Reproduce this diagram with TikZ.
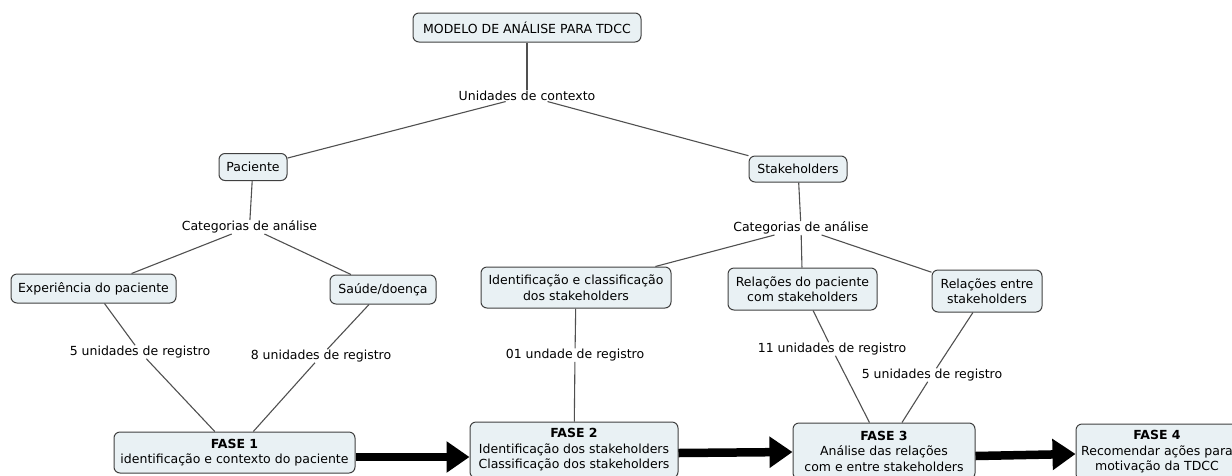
\documentclass[tikz,border=0pt]{standalone}
\usepackage{fontspec}
\setmainfont{DejaVu Sans}
\usetikzlibrary{shapes,arrows.meta}

\definecolor{boxfill}{HTML}{E9F1F4}
\definecolor{boxline}{HTML}{404040}
\definecolor{linkgray}{HTML}{505050}

\tikzset{
  concept/.style={draw=boxline, fill=boxfill, rounded corners=6pt, line width=1pt, align=center, inner sep=0pt},
  phrase/.style={inner sep=0.5pt, align=center},
  link/.style={draw=linkgray, line width=1.1pt},
  bigarrow/.style={line width=8.5pt, -{Triangle[length=23pt,width=30pt]}}
}

\begin{document}
\begin{tikzpicture}[x=1pt, y=-1pt, font=\fontsize{12.5}{15.5}\selectfont]
    \useasboundingbox (0,0) rectangle (1232,475);
    \clip (0,0) rectangle (1232,475);
    % concepts
    \node[concept, minimum width=228pt, minimum height=29pt] (modelo) at (527, 27.5) {MODELO DE ANÁLISE PARA TDCC};
    \node[concept, minimum width=68pt, minimum height=27pt] (paciente) at (253, 167) {Paciente};
    \node[concept, minimum width=98pt, minimum height=26pt] (stake) at (798, 169) {Stakeholders};
    \node[concept, minimum width=165pt, minimum height=29pt] (experiencia) at (93.5, 288.5) {Experiência do paciente};
    \node[concept, minimum width=106pt, minimum height=29pt] (saude) at (383, 289.5) {Saúde/doença};
    \node[concept, minimum width=190pt, minimum height=41pt] (identif) at (576, 287.5) {Identificação e classificação\\dos stakeholders};
    \node[concept, minimum width=149pt, minimum height=42pt] (relpac) at (802.5, 289) {Relações do paciente\\com stakeholders};
    \node[concept, minimum width=110pt, minimum height=42pt] (relentre) at (987, 291) {Relações entre\\stakeholders};
    \node[concept, minimum width=241pt, minimum height=41pt] (fase1) at (234.5, 452.5) {\textbf{FASE 1}\\identificação e contexto do paciente};
    \node[concept, minimum width=208pt, minimum height=56pt] (fase2) at (574, 450) {\textbf{FASE 2}\\Identificação dos stakeholders\\Classificação dos stakeholders};
    \node[concept, minimum width=182pt, minimum height=56pt] (fase3) at (884, 451) {\textbf{FASE 3}\\Análise das relações\\com e entre stakeholders};
    \node[concept, minimum width=162pt, minimum height=56pt] (fase4) at (1157, 452) {\textbf{FASE 4}\\Recomendar ações para\\motivação da TDCC};
    % linking phrases
    \node[phrase] (contexto) at (527, 96) {Unidades de contexto};
    \node[phrase] (catpac) at (249.5, 227) {Categorias de análise};
    \node[phrase] (catstake) at (801, 228) {Categorias de análise};
    \node[phrase] (regA) at (140, 352) {5 unidades de registro};
    \node[phrase] (regB) at (321, 356) {8 unidades de registro};
    \node[phrase] (regC) at (575, 355) {01 undade de registro};
    \node[phrase] (regD) at (832, 349) {11 unidades de registro};
    \node[phrase] (regE) at (932, 375) {5 unidades de registro};
    % links
    \draw[link] (modelo) -- (contexto);
    \draw[link] (contexto) -- (paciente);
    \draw[link] (contexto) -- (stake);
    \draw[link] (paciente) -- (catpac);
    \draw[link] (stake) -- (catstake);
    \draw[link] (catpac) -- (experiencia);
    \draw[link] (catpac) -- (saude);
    \draw[link] (catstake) -- (identif);
    \draw[link] (catstake) -- (relpac);
    \draw[link] (catstake) -- (relentre);
    \draw[link] (experiencia) -- (regA) -- (fase1);
    \draw[link] (saude) -- (regB) -- (fase1);
    \draw[link] (identif) -- (regC) -- (fase2);
    \draw[link] (relpac) -- (regD) -- (fase3);
    \draw[link] (relentre) -- (regE) -- (fase3);
    % phase arrows
    \draw[bigarrow] ([yshift=-4.5pt]fase1.east) -- ([yshift=-7pt]fase2.west);
    \draw[bigarrow] ([yshift=-3pt]fase2.east) -- ([yshift=-1pt]fase3.west);
    \draw[bigarrow] ([yshift=-5pt]fase3.east) -- ([yshift=-2pt]fase4.west);
\end{tikzpicture}
\end{document}
